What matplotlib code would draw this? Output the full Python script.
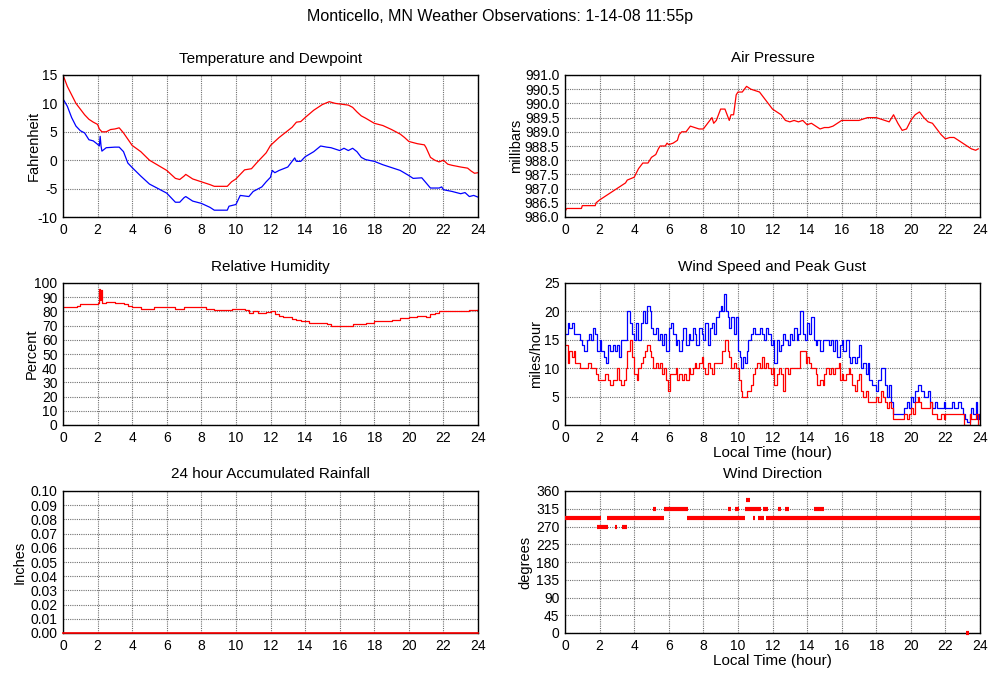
import matplotlib
matplotlib.use("Agg")
import matplotlib.pyplot as plt
import numpy as np

# ---------------- data ----------------
temp_hours = [0, 0.25, 0.5, 0.75, 1.0, 1.25, 1.5, 1.75, 2.0, 2.1, 2.25, 2.5, 2.75, 3.0, 3.25, 3.5,
              3.75, 4.0, 4.5, 5.0, 5.5, 6.0, 6.25, 6.5, 6.75, 7.0, 7.1, 7.5, 8.0, 8.5, 8.75, 9.0,
              9.5, 9.75, 10.0, 10.25, 10.5, 10.9, 11.25, 11.5, 11.75, 12.0, 12.25, 12.5, 13.0,
              13.25, 13.5, 13.75, 14.0, 14.5, 15.0, 15.4, 15.75, 16.0, 16.5, 16.75, 17.0, 17.25,
              17.5, 18.0, 18.5, 19.0, 19.5, 19.75, 20.0, 20.5, 20.9, 21.0, 21.25, 21.5, 21.75,
              22.0, 22.25, 22.5, 23.0, 23.4, 23.6, 23.8, 24.0]
temperature = [15, 13, 11.5, 10, 9, 8, 7.2, 6.7, 6.3, 5.5, 5.0, 5.0, 5.4, 5.5, 5.7, 4.8,
               3.7, 2.6, 1.5, 0, -0.9, -1.8, -2.5, -3.2, -3.4, -2.8, -2.5, -3.3, -3.8, -4.3, -4.6, -4.6,
               -4.6, -3.8, -3.3, -2.5, -1.7, -1.5, -0.3, 0.5, 1.3, 2.6, 3.3, 4.0, 5.2,
               5.8, 6.7, 6.8, 7.5, 8.8, 9.8, 10.3, 10.0, 9.9, 9.7, 9.3, 8.5, 7.8,
               7.4, 6.5, 6.1, 5.4, 4.6, 4.0, 3.3, 2.9, 2.7, 2.2, 0.5, 0, -0.3,
               0, -0.7, -0.9, -1.2, -1.4, -1.9, -2.3, -2.2]

dew_hours = [0, 0.25, 0.5, 0.75, 1.0, 1.25, 1.5, 1.75, 2.0, 2.1, 2.15, 2.2, 2.25, 2.5, 3.0, 3.25,
             3.5, 3.75, 4.0, 4.5, 5.0, 5.5, 6.0, 6.25, 6.5, 6.75, 7.0, 7.1, 7.5, 8.0, 8.5, 8.75,
             9.0, 9.5, 9.6, 10.0, 10.25, 10.75, 11.0, 11.5, 11.75, 12.0, 12.1, 12.25, 12.5, 13.0,
             13.25, 13.4, 13.5, 13.75, 14.0, 14.5, 14.9, 15.25, 15.5, 16.0, 16.25, 16.5, 16.75,
             17.0, 17.25, 17.5, 18.0, 18.5, 19.0, 19.5, 20.0, 20.25, 20.75, 21.0, 21.25, 21.75,
             21.9, 22.0, 22.5, 23.0, 23.25, 23.5, 23.75, 24.0]
dewpoint = [10.8, 9.5, 7.5, 6.0, 5.2, 4.8, 3.6, 3.4, 2.8, 2.5, 4.2, 2.5, 1.6, 2.2, 2.3, 2.3,
            1.5, -0.5, -1.3, -2.8, -4.2, -5.0, -5.8, -6.6, -7.4, -7.4, -6.6, -6.4, -7.2, -7.6, -8.3, -8.8,
            -8.8, -8.8, -8.1, -7.8, -6.2, -6.4, -5.5, -4.7, -3.8, -3.0, -1.8, -2.2, -1.8, -1.2,
            -0.2, 0.4, -0.2, -0.2, 0.6, 1.5, 2.5, 2.3, 2.2, 1.7, 2.1, 1.7, 2.1,
            1.5, 0.5, 0.1, -0.2, -0.8, -1.3, -1.8, -2.7, -3.2, -3.1, -4.0, -4.9, -4.9,
            -4.7, -5.2, -5.5, -5.9, -5.7, -6.4, -6.2, -6.5]

pres_hours = [0, 0.1, 0.95, 1.0, 1.75, 1.8, 2.0, 2.25, 2.5, 2.75, 3.0, 3.25, 3.5, 3.6, 4.0, 4.25,
              4.5, 4.8, 5.0, 5.25, 5.4, 5.5, 5.8, 5.9, 6.0, 6.25, 6.5, 6.6, 6.75, 7.0, 7.25, 7.5,
              7.75, 8.0, 8.25, 8.5, 8.6, 8.75, 9.0, 9.25, 9.5, 9.6, 9.75, 9.9, 10.0, 10.25, 10.5,
              10.75, 11.0, 11.25, 11.5, 11.75, 12.0, 12.25, 12.5, 12.75, 13.0, 13.25, 13.5, 13.75,
              14.0, 14.25, 14.5, 14.75, 15.0, 15.25, 15.5, 15.75, 16.0, 16.5, 17.0, 17.5, 18.0,
              18.25, 18.5, 18.75, 19.0, 19.25, 19.5, 19.75, 20.0, 20.25, 20.5, 20.75, 21.0, 21.25,
              21.5, 21.75, 22.0, 22.25, 22.5, 22.75, 23.0, 23.25, 23.5, 23.75, 23.9]
pressure = [986.2, 986.3, 986.3, 986.4, 986.4, 986.5, 986.6, 986.7, 986.8, 986.9, 987.0, 987.1, 987.2, 987.3, 987.4, 987.7,
            987.9, 987.9, 988.1, 988.2, 988.4, 988.5, 988.5, 988.6, 988.55, 988.6, 988.7, 988.9, 989.0, 989.0, 989.2, 989.15,
            989.1, 989.1, 989.3, 989.5, 989.3, 989.4, 989.8, 989.8, 989.4, 989.6, 989.6, 990.3, 990.4, 990.4, 990.6,
            990.5, 990.45, 990.4, 990.2, 990.0, 989.8, 989.7, 989.6, 989.4, 989.35, 989.4, 989.35, 989.4,
            989.25, 989.3, 989.2, 989.1, 989.15, 989.15, 989.2, 989.3, 989.4, 989.4, 989.4, 989.5, 989.5,
            989.45, 989.4, 989.35, 989.6, 989.3, 989.05, 989.1, 989.4, 989.6, 989.7, 989.5, 989.35, 989.3,
            989.1, 988.9, 988.75, 988.8, 988.8, 988.7, 988.6, 988.5, 988.4, 988.35, 988.4]

rh_hours = [0, 0.75, 0.8, 1.0, 1.5, 2.0, 2.1, 2.15, 2.2, 2.25, 2.5, 3.0, 3.5, 3.75, 4.0, 4.25,
            4.5, 5.0, 5.25, 6.0, 6.25, 6.5, 7.0, 7.5, 8.0, 8.25, 8.75, 9.5, 9.75, 10.25, 10.5,
            10.75, 11.0, 11.25, 11.75, 12.0, 12.25, 12.5, 12.75, 13.25, 13.5, 13.75, 14.0, 14.25,
            15.0, 15.25, 15.5, 16.0, 16.5, 16.75, 17.5, 18.0, 18.5, 19.0, 19.5, 20.0, 20.5, 21.0,
            21.25, 21.5, 21.75, 22.5, 23.0, 23.5, 24.0]
humidity = [83, 83, 84, 85, 85.5, 86, 96, 88, 95, 86, 86.5, 86, 85, 84, 83, 83,
            82, 82, 83, 83, 83, 82, 83, 83, 83, 82, 81, 81, 82, 82, 81,
            79, 80, 79, 79.5, 80, 78, 77, 76, 75, 74, 73, 73, 72,
            72, 71, 70, 69.5, 70, 71, 71.5, 73, 73.5, 74, 75.5, 76, 76.5, 76,
            78, 79, 80, 80, 80.5, 81, 81.5]

gust_hours = [0.05, 0.15, 0.25, 0.4, 0.5, 0.75, 0.85, 1.0, 1.1, 1.25, 1.4, 1.5, 1.6, 1.75, 1.85, 2.0,
              2.1, 2.25, 2.35, 2.5, 2.6, 2.75, 2.9, 3.0, 3.1, 3.25, 3.5, 3.6, 3.75, 3.9, 4.0, 4.1,
              4.25, 4.4, 4.5, 4.6, 4.75, 4.9, 5.0, 5.1, 5.25, 5.4, 5.5, 5.6, 5.75, 5.85, 6.0, 6.15,
              6.25, 6.4, 6.5, 6.6, 6.75, 6.85, 7.0, 7.15, 7.25, 7.4, 7.5, 7.6, 7.75, 7.9, 8.0, 8.1,
              8.25, 8.4, 8.5, 8.6, 8.75, 8.9, 9.0, 9.1, 9.2, 9.3, 9.4, 9.5, 9.6, 9.75, 9.9, 10.0,
              10.1, 10.2, 10.3, 10.4, 10.5, 10.6, 10.75, 10.9, 11.0, 11.25, 11.4, 11.5, 11.6, 11.75,
              11.9, 12.0, 12.1, 12.25, 12.4, 12.5, 12.6, 12.75, 12.9, 13.0, 13.1, 13.25, 13.4, 13.5,
              13.6, 13.75, 13.9, 14.0, 14.1, 14.25, 14.4, 14.5, 14.6, 14.75, 14.9, 15.0, 15.25, 15.4,
              15.5, 15.6, 15.75, 15.9, 16.0, 16.1, 16.25, 16.4, 16.5, 16.6, 16.75, 16.9, 17.0, 17.1,
              17.25, 17.4, 17.5, 17.6, 17.75, 17.9, 18.0, 18.1, 18.25, 18.4, 18.5, 18.6, 18.75, 18.85,
              18.95, 19.5, 19.6, 19.75, 19.9, 20.0, 20.1, 20.25, 20.4, 20.6, 20.75, 21.0, 21.1, 21.25,
              21.4, 21.5, 21.75, 21.9, 22.0, 22.25, 22.4, 22.5, 22.75, 22.9, 23.0, 23.15, 23.25, 23.4,
              23.5, 23.6, 23.75, 23.85, 23.95]
gust = [16, 18, 17, 18, 16, 16, 15, 14, 13, 15, 16, 15, 17, 16, 13, 15,
        13, 12, 11, 14, 13, 14, 13, 14, 12, 15, 15, 20, 18, 16, 15, 18,
        15, 18, 20, 18, 21, 20, 17, 16, 17, 15, 16, 14, 16, 13, 17, 18,
        16, 14, 15, 13, 15, 17, 14, 16, 15, 17, 16, 14, 17, 16, 15, 18,
        14, 17, 18, 16, 19, 20, 21, 20, 23, 20, 19, 17, 19, 16, 19, 13,
        12, 10, 12, 11, 13, 15, 16, 17, 16, 17, 16, 15, 17, 16,
        14, 15, 11, 15, 13, 14, 16, 15, 14, 16, 15, 17, 15, 16,
        20, 16, 15, 18, 16, 19, 15, 14, 15, 13, 15, 15, 14, 15,
        13, 15, 12, 14, 15, 13, 15, 12, 11, 12, 11, 12, 14, 10,
        11, 9, 11, 8, 7, 7, 6, 8, 10, 10, 7, 5, 7, 4,
        2, 2, 3, 4, 3, 5, 4, 6, 7, 6, 5, 6, 4, 3,
        4, 3, 3, 4, 3, 3, 4, 3, 4, 3, 2, 1, 0.5, 2,
        3, 2, 4, 1, 2]

speed_hours = [0.05, 0.15, 0.25, 0.4, 0.5, 0.6, 0.75, 0.85, 1.25, 1.35, 1.5, 1.75, 1.8, 1.9, 2.25, 2.3,
               2.5, 2.6, 2.75, 3.0, 3.1, 3.25, 3.4, 3.5, 3.6, 3.75, 3.9, 4.0, 4.15, 4.25, 4.4, 4.5,
               4.6, 4.75, 4.9, 5.0, 5.1, 5.25, 5.4, 5.5, 5.6, 5.75, 5.85, 5.95, 6.1, 6.25, 6.4, 6.5,
               6.6, 6.75, 6.9, 7.0, 7.15, 7.25, 7.4, 7.5, 7.6, 7.75, 7.9, 8.0, 8.1, 8.25, 8.4, 8.5,
               8.6, 8.75, 9.0, 9.1, 9.25, 9.4, 9.5, 9.6, 9.75, 9.9, 10.0, 10.05, 10.15, 10.25, 10.4,
               10.5, 10.75, 10.9, 11.0, 11.1, 11.25, 11.4, 11.5, 11.6, 11.75, 11.9, 12.0, 12.1, 12.25,
               12.4, 12.5, 12.6, 12.75, 12.9, 13.0, 13.5, 13.6, 13.75, 13.9, 13.95, 14.0, 14.1, 14.25,
               14.5, 14.6, 14.75, 14.9, 15.0, 15.1, 15.25, 15.4, 15.5, 15.6, 15.75, 15.85, 15.9, 16.0,
               16.1, 16.25, 16.4, 16.5, 16.6, 16.75, 16.9, 17.0, 17.1, 17.25, 17.4, 17.5, 17.75, 18.0,
               18.1, 18.25, 18.4, 18.5, 18.6, 18.75, 18.85, 18.95, 19.5, 19.6, 19.75, 19.9, 20.0, 20.1,
               20.25, 20.4, 20.5, 20.6, 21.0, 21.1, 21.25, 21.5, 21.6, 21.75, 21.9, 22.0, 23.0, 23.1,
               23.3, 23.4, 23.5, 23.75, 23.9]
speed = [14, 11, 13, 12, 13, 11, 11, 10, 10, 11, 10, 10, 9, 8, 8, 9,
         8, 7, 8, 10, 8, 7, 8, 10, 13, 15, 12, 9, 8, 10, 11, 12,
         13, 14, 13, 12, 10, 11, 10, 11, 9, 10, 8, 6, 9, 9, 10, 8,
         9, 8, 9, 8, 10, 9, 10, 11, 10, 11, 12, 10, 9, 11, 10, 9,
         11, 11, 11, 13, 15, 13, 12, 10, 11, 10, 10, 8, 6, 5, 5,
         6, 7, 9, 10, 11, 10, 12, 10, 11, 10, 9, 10, 7, 9,
         10, 9, 6, 10, 9, 10, 10, 13, 13, 13, 11, 12, 11, 10,
         9, 7, 8, 7, 9, 10, 9, 10, 9, 10, 10, 11, 8, 9,
         8, 9, 10, 9, 7, 6, 8, 9, 6, 5, 6, 4, 4, 5,
         4, 6, 5, 4, 3, 4, 3, 1, 1, 2, 1, 2, 3, 2,
         4, 5, 4, 3, 3, 4, 2, 1, 1, 2, 1, 2, 2, 0,
         0, 2, 1, 2, 0]

rain_hours = [0, 24]
rainfall = [0.0, 0.0]

# wind direction runs: start hour, end hour, direction (deg)
dir_start = [0.0, 1.87, 2.4, 2.87, 3.31, 5.1, 5.72, 7.06, 9.45, 9.85, 10.39, 10.49, 10.85,
             11.14, 11.43, 11.6, 12.32, 12.74, 14.41, 23.17]
dir_end = [2.06, 2.48, 5.72, 3.02, 3.56, 5.27, 7.12, 10.43, 9.62, 10.08, 11.34, 10.72, 11.0,
           11.53, 11.72, 24.0, 12.51, 12.97, 14.95, 23.36]
dir_value = [292.5, 270, 292.5, 270, 270, 315, 315, 292.5, 315, 315, 315, 337.5, 292.5,
             292.5, 315, 292.5, 315, 315, 315, 0]

hour_ticks = list(range(0, 25, 2))

# ---------------- figure ----------------
plt.rcParams['font.family'] = ['Liberation Sans', 'DejaVu Sans']
FS = 10
fig = plt.figure(figsize=(10, 6.8), dpi=100)
W, H = 1000.0, 680.0


def make_ax(left, top, right, bottom):
    return fig.add_axes([left / W, 1 - bottom / H, (right - left) / W, (bottom - top) / H])


def style(ax, title, ylabel, yticks, fmt, label_x_px, left_px, xlabel=None):
    ax.set_xlim(0, 24)
    ax.set_ylim(yticks[0], yticks[-1])
    ax.set_xticks(hour_ticks)
    ax.set_xticklabels([str(h) for h in hour_ticks], fontsize=FS)
    ax.set_yticks(yticks)
    ax.set_yticklabels([fmt.format(v) for v in yticks], fontsize=FS)
    ax.tick_params(length=0, pad=4)
    ax.grid(True, color='#707070', linestyle=(0, (1, 1)), linewidth=0.8)
    ax.set_axisbelow(True)
    for s in ax.spines.values():
        s.set_color('black')
        s.set_linewidth(1.0)
        s.set_zorder(4)
    ax.set_title(title, fontsize=11, pad=9)
    ax.set_ylabel(ylabel, fontsize=10.5)
    ax.yaxis.label.set_verticalalignment('center')
    ax.yaxis.set_label_coords((label_x_px - left_px) / 415.0, 0.5)
    if xlabel:
        ax.set_xlabel(xlabel, fontsize=11, labelpad=1)


ax1 = make_ax(63, 75, 478, 217)
ax1.plot(temp_hours, temperature, color='red', lw=0.9)
ax1.plot(dew_hours, dewpoint, color='blue', lw=0.9)
style(ax1, 'Temperature and Dewpoint', 'Fahrenheit', list(range(-10, 16, 5)), '{:d}', 34, 63)

ax2 = make_ax(565, 75, 980, 217)
ax2.plot(pres_hours, pressure, color='red', lw=0.9)
style(ax2, 'Air Pressure', 'millibars', list(np.arange(986.0, 991.01, 0.5)), '{:.1f}', 516, 565)

ax3 = make_ax(63, 283, 478, 425)
ax3.plot(rh_hours, humidity, color='red', lw=0.9, drawstyle='steps-post')
style(ax3, 'Relative Humidity', 'Percent', list(range(0, 101, 10)), '{:d}', 32, 63)

ax4 = make_ax(565, 283, 980, 425)
ax4.plot(gust_hours, gust, color='blue', lw=0.9, drawstyle='steps-post')
ax4.plot(speed_hours, speed, color='red', lw=0.9, drawstyle='steps-post')
style(ax4, 'Wind Speed and Peak Gust', 'miles/hour', list(range(0, 26, 5)), '{:d}', 536, 565,
      xlabel='Local Time (hour)')

ax5 = make_ax(63, 491, 478, 633)
ax5.plot(rain_hours, rainfall, color='red', lw=1.2, zorder=6, clip_on=False)
style(ax5, '24 hour Accumulated Rainfall', 'Inches', list(np.round(np.arange(0, 0.101, 0.01), 2)), '{:.2f}', 20, 63)

ax6 = make_ax(565, 491, 980, 633)
ax6.hlines(dir_value, dir_start, dir_end, color='red', lw=3.0, clip_on=False, zorder=6)
style(ax6, 'Wind Direction', 'degrees', list(range(0, 361, 45)), '{:d}', 525, 565,
      xlabel='Local Time (hour)')

fig.text(0.5, 1 - 17 / H, 'Monticello, MN Weather Observations: 1-14-08 11:55p',
         ha='center', va='center', fontsize=11.5)

fig.savefig('out.png', dpi=100)
